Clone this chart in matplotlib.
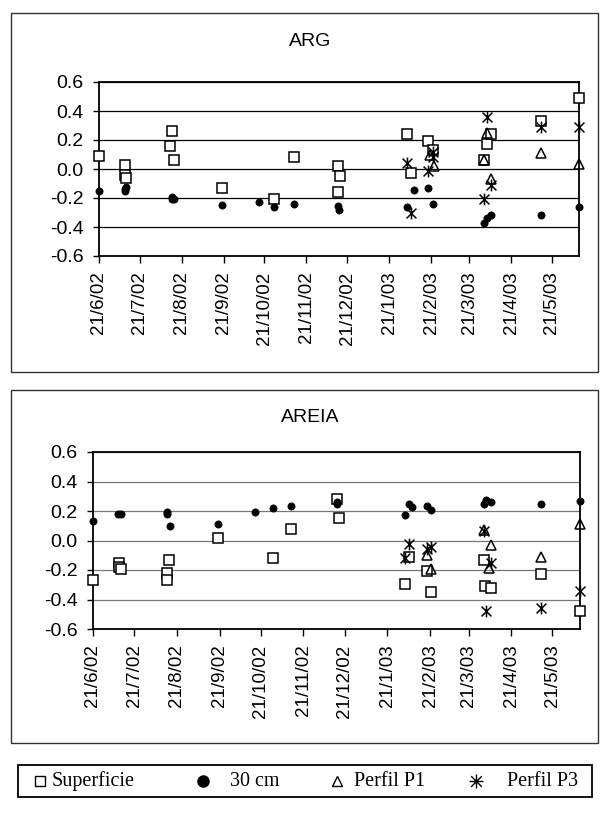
import matplotlib
matplotlib.use('Agg')
import matplotlib.pyplot as plt
import matplotlib.dates as mdates
from matplotlib.path import Path
from matplotlib.patches import Rectangle
from matplotlib.lines import Line2D
import pandas as pd

plt.rcParams['font.family'] = ['Liberation Sans', 'DejaVu Sans']
plt.rcParams['axes.unicode_minus'] = False

# ---- ARG ----
arg_sup_dates = ['2002-06-21', '2002-07-10', '2002-07-10', '2002-07-11', '2002-08-12', '2002-08-14',
                 '2002-08-15', '2002-09-20', '2002-10-28', '2002-11-12', '2002-12-14', '2002-12-14',
                 '2002-12-16', '2003-02-03', '2003-02-06', '2003-02-19', '2003-02-22', '2003-04-01',
                 '2003-04-03', '2003-04-06', '2003-05-13', '2003-06-10']
arg_sup_vals = [0.09, 0.03, -0.04, -0.065, 0.16, 0.26,
                0.06, -0.13, -0.21, 0.08, 0.02, -0.16,
                -0.05, 0.24, -0.03, 0.19, 0.13, 0.06,
                0.17, 0.24, 0.33, 0.49]

arg_30_dates = ['2002-06-21', '2002-07-10', '2002-07-10', '2002-07-11', '2002-08-14', '2002-08-14',
                '2002-08-15', '2002-09-20', '2002-10-17', '2002-10-28', '2002-11-12', '2002-12-14',
                '2002-12-15', '2003-02-03', '2003-02-08', '2003-02-19', '2003-02-22', '2003-04-01',
                '2003-04-03', '2003-04-06', '2003-05-13', '2003-06-10']
arg_30_vals = [-0.155, -0.155, -0.14, -0.125, -0.19, -0.21,
               -0.21, -0.25, -0.225, -0.265, -0.24, -0.255,
               -0.28, -0.265, -0.145, -0.13, -0.24, -0.375,
               -0.34, -0.32, -0.32, -0.265]

arg_p1_dates = ['2003-02-20', '2003-02-23', '2003-04-01', '2003-04-03', '2003-04-06', '2003-05-13', '2003-06-10']
arg_p1_vals = [0.10, 0.02, 0.06, 0.25, -0.07, 0.11, 0.035]

arg_p3_dates = ['2003-02-03', '2003-02-06', '2003-02-19', '2003-02-22', '2003-02-22', '2003-04-01',
                '2003-04-03', '2003-04-06', '2003-05-13', '2003-06-10']
arg_p3_vals = [0.04, -0.30, -0.015, 0.12, 0.08, -0.21,
               0.36, -0.11, 0.29, 0.29]

# ---- AREIA ----
are_sup_dates = ['2002-06-21', '2002-07-10', '2002-07-10', '2002-07-11', '2002-08-15', '2002-08-14',
                 '2002-08-14', '2002-09-20', '2002-10-30', '2002-11-12', '2002-12-15', '2002-12-17',
                 '2003-02-03', '2003-02-06', '2003-02-19', '2003-02-22', '2003-04-01', '2003-04-02',
                 '2003-04-06', '2003-05-13', '2003-06-10']
are_sup_vals = [-0.265, -0.155, -0.18, -0.19, -0.13, -0.22,
                -0.27, 0.02, -0.12, 0.075, 0.28, 0.155,
                -0.295, -0.115, -0.21, -0.35, -0.13, -0.31,
                -0.32, -0.225, -0.48]

are_30_dates = ['2002-06-21', '2002-07-09', '2002-07-11', '2002-08-14', '2002-08-14', '2002-08-16',
                '2002-09-20', '2002-10-17', '2002-10-30', '2002-11-12', '2002-12-15', '2002-12-15',
                '2003-02-03', '2003-02-06', '2003-02-08', '2003-02-19', '2003-02-22', '2003-04-01',
                '2003-04-03', '2003-04-06', '2003-05-13', '2003-06-10']
are_30_vals = [0.13, 0.18, 0.18, 0.195, 0.18, 0.10,
               0.115, 0.195, 0.22, 0.235, 0.26, 0.25,
               0.17, 0.25, 0.225, 0.235, 0.21, 0.25,
               0.275, 0.26, 0.25, 0.265]

are_p1_dates = ['2003-02-19', '2003-02-22', '2003-04-01', '2003-04-05', '2003-04-06', '2003-05-13', '2003-06-10']
are_p1_vals = [-0.095, -0.195, 0.07, -0.185, -0.03, -0.11, 0.115]

are_p3_dates = ['2003-02-03', '2003-02-06', '2003-02-19', '2003-02-22', '2003-04-01',
                '2003-04-03', '2003-04-06', '2003-05-13', '2003-06-10']
are_p3_vals = [-0.12, -0.025, -0.06, -0.045, 0.065,
               -0.475, -0.155, -0.46, -0.34]

labels = ['Superficie', '30 cm', 'Perfil P1', 'Perfil P3']
y_ticks = [-0.6, -0.4, -0.2, 0.0, 0.2, 0.4, 0.6]
x_start, x_end = '2002-06-21', '2003-06-10'

# Excel-like star: X plus a vertical bar
star = Path([(-1, -1), (1, 1), (-1, 1), (1, -1), (0, -1.2), (0, 1.2)],
            [Path.MOVETO, Path.LINETO, Path.MOVETO, Path.LINETO, Path.MOVETO, Path.LINETO])
star8 = Path([(-1, -1), (1, 1), (-1, 1), (1, -1), (0, -1.3), (0, 1.3), (-1.3, 0), (1.3, 0)],
             [Path.MOVETO, Path.LINETO] * 4)

styles = [dict(marker='s', ms=6.5, mfc='white', mec='black', mew=1.1),
          dict(marker='o', ms=5.2, mfc='black', mec='black', mew=0.5),
          dict(marker='^', ms=7, mfc='none', mec='black', mew=1.1),
          dict(marker=star, ms=8.5, mfc='none', mec='black', mew=1.1)]


def panel(ax, series, grid_color):
    for (d, v), st in zip(series, styles):
        ax.plot(pd.to_datetime(d), v, ls='none', clip_on=False, zorder=3, **st)
    ax.set_xlim(pd.Timestamp(x_start), pd.Timestamp(x_end))
    ax.set_ylim(-0.6, 0.6)
    ax.set_yticks(y_ticks)
    ax.set_yticklabels([f'{t:.1f}' for t in y_ticks], fontsize=14)
    ax.xaxis.set_major_locator(mdates.MonthLocator(bymonthday=21))
    ax.xaxis.set_major_formatter(plt.FuncFormatter(
        lambda x, pos: (lambda d: f'{d.day}/{d.month}/{d:%y}')(mdates.num2date(x))))
    plt.setp(ax.get_xticklabels(), rotation=90, fontsize=13.5)
    ax.yaxis.grid(True, color=grid_color, lw=0.9)
    ax.set_axisbelow(True)
    for s in ax.spines.values():
        s.set_linewidth(1.3)
    ax.tick_params(axis='y', length=4, width=1, pad=7)
    ax.tick_params(axis='x', length=5, width=1, pad=6)


fig = plt.figure(figsize=(6, 8.14), dpi=100)
W, H = 600, 814

for (x0, y0, x1, y1) in [(11, 13, 598, 372), (11, 390, 598, 743)]:
    fig.add_artist(Rectangle((x0 / W, 1 - y1 / H), (x1 - x0) / W, (y1 - y0) / H,
                             transform=fig.transFigure, fill=False, ec='#333333', lw=1))

ax1 = fig.add_axes([99 / W, 1 - 256 / H, (579 - 99) / W, (256 - 82) / H])
ax2 = fig.add_axes([93 / W, 1 - 629 / H, (580 - 93) / W, (629 - 452) / H])

panel(ax1, [(arg_sup_dates, arg_sup_vals), (arg_30_dates, arg_30_vals),
            (arg_p1_dates, arg_p1_vals), (arg_p3_dates, arg_p3_vals)], 'black')
panel(ax2, [(are_sup_dates, are_sup_vals), (are_30_dates, are_30_vals),
            (are_p1_dates, are_p1_vals), (are_p3_dates, are_p3_vals)], '#777777')

fig.text(310 / W, 1 - 42 / H, 'ARG', ha='center', va='center', fontsize=14)
fig.text(310 / W, 1 - 418 / H, 'AREIA', ha='center', va='center', fontsize=14)

# legend drawn by hand so entries spread across the box like the original
fig.add_artist(Rectangle((18 / W, 1 - 797 / H), (592 - 18) / W, (797 - 765) / H,
                         transform=fig.transFigure, fill=False, ec='black', lw=1.3))
leg_styles = [dict(marker='s', ms=6.5, mfc='white', mec='black', mew=1.0),
              dict(marker='o', ms=8, mfc='black', mec='black'),
              dict(marker='^', ms=7.5, mfc='none', mec='black', mew=1.0),
              dict(marker=star8, ms=10, mfc='none', mec='black', mew=1.0)]
mark_x = [40, 203, 337, 476]
text_x = [52, 230, 354, 507]
ly = 1 - 781 / H
for lab, st, mx, tx in zip(labels, leg_styles, mark_x, text_x):
    fig.add_artist(Line2D([mx / W], [ly], transform=fig.transFigure, ls='none', **st))
    fig.text(tx / W, ly, lab, ha='left', va='center', fontsize=14.5, family='Liberation Serif')

fig.savefig('out.png', dpi=100, facecolor='white')
